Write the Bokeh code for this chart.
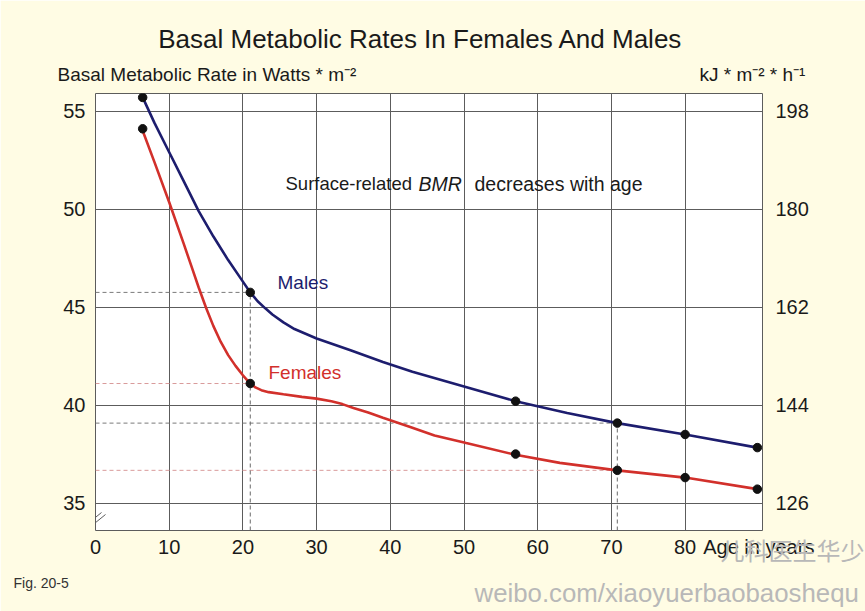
from bokeh.plotting import figure
from bokeh.models import Range1d, LinearAxis, FixedTicker, Label, Arrow
from bokeh.embed import file_html
from bokeh.resources import INLINE

# ---------------- data ----------------
ages = [6.4, 21.0, 57.0, 70.8, 80.0, 89.8]
male_bmr = [55.7, 45.75, 40.2, 39.08, 38.5, 37.83]
female_bmr = [54.1, 41.1, 37.5, 36.67, 36.3, 35.71]

male_curve_age = [6.4, 8.0, 10.0, 12.0, 14.0, 16.0, 18.0, 20.0, 21.0, 22.0, 23.0, 24.0, 25.5,
                  27.0, 30.0, 34.6, 39.0, 43.0, 50.0, 57.0, 64.0, 70.8, 80.0, 89.8]
male_curve_bmr = [55.7, 54.4, 52.9, 51.4, 49.9, 48.6, 47.4, 46.3, 45.75, 45.3, 44.95, 44.62, 44.22,
                  43.88, 43.4, 42.8, 42.2, 41.7, 40.95, 40.2, 39.6, 39.08, 38.5, 37.83]

female_curve_age = [6.3, 8.0, 10.0, 12.0, 13.0, 14.0, 15.0, 16.0, 17.0, 18.0, 19.0, 20.0, 21.0,
                    21.7, 22.5, 23.5, 25.5, 28.0, 30.0, 32.0, 33.5, 35.0, 37.0, 39.0, 42.7,
                    46.0, 50.3, 56.8, 63.0, 70.8, 80.0, 89.8]
female_curve_bmr = [54.1, 52.4, 50.35, 48.2, 47.1, 46.0, 44.97, 44.03, 43.22, 42.55, 42.0, 41.52,
                    41.1, 40.9, 40.76, 40.66, 40.55, 40.42, 40.33, 40.2, 40.05, 39.85, 39.62,
                    39.35, 38.88, 38.45, 38.06, 37.48, 37.05, 36.67, 36.3, 35.71]

ref_age = [21.0, 70.8]
ref_male = [45.75, 39.08]
ref_female = [41.1, 36.67]

x_ticks = [0, 10, 20, 30, 40, 50, 60, 70, 80]
x_title_tick = 90
x_title = "Age in years"
y_ticks = [35, 40, 45, 50, 55]
kj_ticks = [126, 144, 162, 180, 198]
WATT_TO_KJ = 3.6

# ---------------- layout ----------------
FONT = "Liberation Sans"
CREAM = "#FFFCE4"
GRID = "#5c5c5c"
MALE = "#1d1d6e"
FEMALE = "#d2302b"
WM = "#b8b8b8"

W, H = 865, 611
FL, FT, FW, FH = 95, 93, 667, 437
X0, X1, Y0, Y1 = 0.0, 90.5, 33.6, 55.9


def X(px):
    return X0 + (px - FL) / FW * (X1 - X0)


def Y(py):
    return Y1 - (py - FT) / FH * (Y1 - Y0)


p = figure(frame_width=FW, frame_height=FH,
           x_range=Range1d(X0, X1), y_range=Range1d(Y0, Y1),
           output_backend="svg", toolbar_location=None,
           min_border_left=FL, min_border_right=W - FL - FW,
           min_border_top=FT, min_border_bottom=H - FT - FH,
           background_fill_color="white", border_fill_color=CREAM,
           outline_line_color=GRID, outline_line_width=1)

p.extra_y_ranges = {"kj": Range1d(Y0 * WATT_TO_KJ, Y1 * WATT_TO_KJ)}
p.add_layout(LinearAxis(y_range_name="kj"), "right")


def style_axis(ax, ticks, standoff):
    ax.ticker = FixedTicker(ticks=ticks)
    ax.axis_line_color = None
    ax.major_tick_line_color = None
    ax.minor_tick_line_color = None
    ax.major_tick_out = 0
    ax.major_tick_in = 0
    ax.minor_tick_out = 0
    ax.minor_tick_in = 0
    ax.major_label_text_font = FONT
    ax.major_label_text_font_size = "20px"
    ax.major_label_text_color = "#1a1a1a"
    ax.major_label_standoff = standoff


style_axis(p.xaxis[0], x_ticks + [x_title_tick], 5)
p.xaxis[0].major_label_overrides = {x_title_tick: x_title}
style_axis(p.yaxis[0], y_ticks, 10)
style_axis(p.yaxis[1], kj_ticks, 13)

p.xgrid.ticker = FixedTicker(ticks=x_ticks[1:])
p.ygrid.ticker = FixedTicker(ticks=y_ticks)
for g in (p.xgrid[0], p.ygrid[0]):
    g.grid_line_color = GRID
    g.grid_line_width = 1

# dashed reference lines
p.segment(x0=[X0] * len(ref_age), y0=ref_male, x1=ref_age, y1=ref_male,
          line_color="#7a7a7a", line_width=1, line_dash="4 3")
p.segment(x0=[X0] * len(ref_age), y0=ref_female, x1=ref_age, y1=ref_female,
          line_color="#d99a9a", line_width=1, line_dash="4 3")
p.segment(x0=ref_age, y0=[Y0] * len(ref_age), x1=ref_age, y1=ref_male,
          line_color="#6a6a6a", line_width=1, line_dash="4 3")

# curves
p.line(male_curve_age, male_curve_bmr, line_color=MALE, line_width=2.6)
p.line(female_curve_age, female_curve_bmr, line_color=FEMALE, line_width=2.6)
p.scatter(ages, male_bmr, size=8.5, color="#111111")
p.scatter(ages, female_bmr, size=8.5, color="#111111")


def seg(px0, py0, px1, py1, color=GRID, width=1):
    p.add_layout(Arrow(end=None, start=None,
                       x_start=X(px0), y_start=Y(py0), x_end=X(px1), y_end=Y(py1),
                       line_color=color, line_width=width), "left")


# axis break marks
seg(85, 525, 101, 512)
seg(89, 527, 105, 514)


def lab(text, px, py, size, color="#1a1a1a", align="left", style="normal",
        font=FONT, side=None):
    label = Label(x=X(px), y=Y(py), text=text, text_font=font,
                  text_font_size=size, text_color=color, text_align=align,
                  text_baseline="middle", text_font_style=style)
    if side is None:
        p.add_layout(label)
    else:
        p.add_layout(label, side)


NBSP = "\u00a0"
units_line = ("Basal Metabolic Rate in Watts * m\u207b\u00b2" + NBSP * 65
              + "kJ * m\u207b\u00b2 * h\u207b\u00b9")

# texts outside the plot area (side panels, so that they are not clipped)
lab("Basal Metabolic Rates In Females And Males", 420, 38, "26px", align="center", side="above")
lab(units_line, 57, 74, "19px", side="above")
lab("儿科医生华少", 720, 549, "24px", color=WM, font="Noto Sans CJK SC", side="above")
lab("weibo.com/xiaoyuerbaobaoshequ", 474, 592, "25.8px", color=WM, side="below")
lab("Fig. 20-5", 13, 582, "14px", color="#333333", side="left")

# texts inside the plot area
lab("Surface-related", 285, 183, "18.5px")
lab("BMR", 418, 183, "19.5px", style="italic")
lab("decreases with age", 474, 183, "19.5px")
lab("Males", 277, 282, "19px", color=MALE)
lab("Females", 268, 372, "19px", color=FEMALE)

open("out.html", "w").write(file_html(p, INLINE))
